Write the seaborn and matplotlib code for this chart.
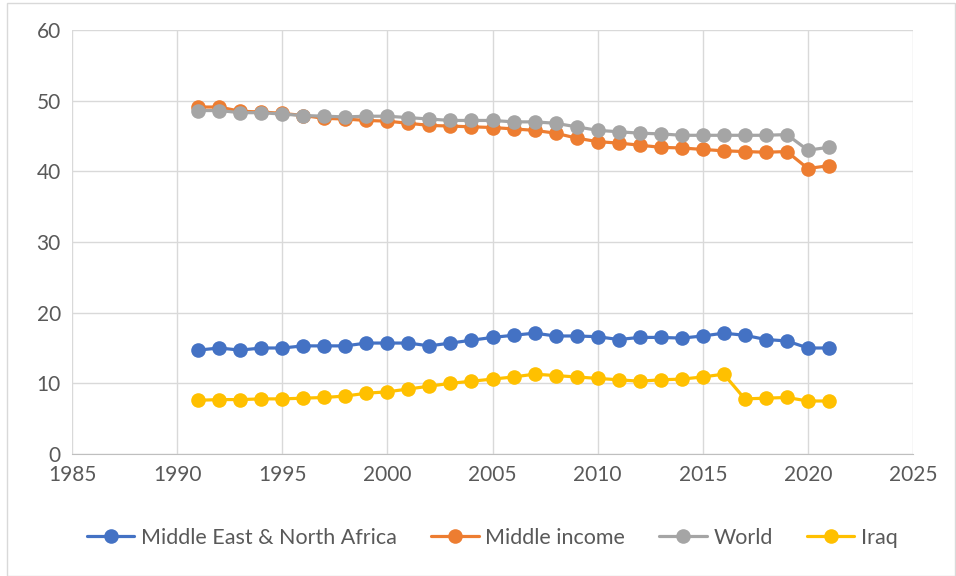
import pandas as pd
import matplotlib.pyplot as plt
import seaborn as sns
from matplotlib.patches import Rectangle

years = list(range(1991, 2022))

mena = [14.7, 15.0, 14.7, 15.0, 15.0, 15.3, 15.3, 15.3, 15.7, 15.7,
        15.7, 15.3, 15.7, 16.1, 16.5, 16.8, 17.1, 16.7, 16.7, 16.6,
        16.2, 16.5, 16.5, 16.4, 16.7, 17.1, 16.8, 16.2, 16.0, 15.0, 15.0]
middle_income = [49.1, 49.1, 48.5, 48.4, 48.2, 47.9, 47.5, 47.4, 47.2, 47.1,
                 46.8, 46.5, 46.4, 46.3, 46.2, 46.0, 45.8, 45.4, 44.7, 44.2,
                 44.0, 43.7, 43.4, 43.3, 43.1, 42.9, 42.8, 42.7, 42.8, 40.4, 40.8]
world = [48.6, 48.6, 48.3, 48.3, 48.1, 47.9, 47.8, 47.7, 47.8, 47.8,
         47.6, 47.4, 47.2, 47.2, 47.2, 47.0, 47.0, 46.8, 46.3, 45.8,
         45.6, 45.4, 45.3, 45.1, 45.1, 45.1, 45.1, 45.1, 45.2, 43.0, 43.4]
iraq = [7.6, 7.7, 7.7, 7.8, 7.8, 7.9, 8.0, 8.2, 8.6, 8.8,
        9.2, 9.6, 10.0, 10.3, 10.6, 10.9, 11.3, 11.1, 10.9, 10.7,
        10.5, 10.3, 10.5, 10.6, 10.9, 11.3, 7.8, 7.9, 8.0, 7.5, 7.5]

series_names = ["Middle East & North Africa", "Middle income", "World", "Iraq"]
colors = ["#4472C4", "#ED7D31", "#A5A5A5", "#FFC000"]

df = pd.DataFrame({
    "Year": years * 4,
    "Value": mena + middle_income + world + iraq,
    "Series": sum([[name] * len(years) for name in series_names], []),
})

sns.set_style("white")
plt.rcParams["font.family"] = ["Lato", "DejaVu Sans"]

fig = plt.figure(figsize=(9.56, 5.76), dpi=100)
ax = fig.add_axes([72 / 956, 1 - 454 / 576, (913 - 72) / 956, (454 - 30) / 576])

sns.lineplot(data=df, x="Year", y="Value", hue="Series", hue_order=series_names,
             palette=colors, marker="o", markersize=10.5, markeredgewidth=0,
             linewidth=2.3, ax=ax)

ax.set_xlim(1985, 2025)
ax.set_ylim(0, 60)
ax.set_xticks(range(1985, 2026, 5))
ax.set_yticks(range(0, 61, 10))
ax.grid(True, color="#D9D9D9", linewidth=1)
ax.set_axisbelow(True)
ax.set_xlabel("")
ax.set_ylabel("")
ax.tick_params(axis="both", length=0, labelsize=15, colors="#595959", pad=8)
for side in ["top", "right", "left"]:
    ax.spines[side].set_visible(False)
ax.spines["bottom"].set_color("#BFBFBF")

handles, labels = ax.get_legend_handles_labels()
ax.legend(handles, labels, loc="center", bbox_to_anchor=(0.515, 1 - 538 / 576),
          bbox_transform=fig.transFigure, ncol=4, frameon=False,
          fontsize=15.5, labelcolor="#595959", handlelength=2.2,
          columnspacing=1.6, handletextpad=0.3)

fig.patches.append(Rectangle((7 / 956, 0), 1 - 8 / 956, 1 - 3 / 576, transform=fig.transFigure,
                             fill=False, edgecolor="#D9D9D9", linewidth=1))

fig.savefig("out.png", dpi=100)
